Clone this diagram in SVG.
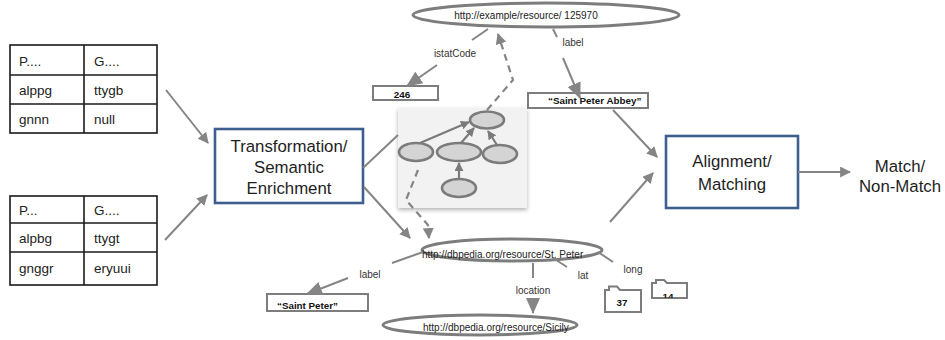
<svg xmlns="http://www.w3.org/2000/svg" width="945" height="340" viewBox="0 0 945 340">
  <defs>
    <style>
      .tbl { fill: #ffffff; stroke: #1a1a1a; stroke-width: 1.6; }
      .cell { font-family: "Liberation Sans", Arial, sans-serif; font-size: 13.5px; fill: #222; }
      .proc { fill: #ffffff; stroke: #3d5f8d; stroke-width: 2.6; }
      .big { font-family: "Liberation Sans", Arial, sans-serif; font-size: 16.8px; fill: #1e1e1e; text-anchor: middle; }
      .conn { fill: none; stroke: #858585; stroke-width: 2; }
      .dash { fill: none; stroke: #858585; stroke-width: 2.2; stroke-dasharray: 7 5; }
      .res { fill: #ffffff; stroke: #7d7d7d; stroke-width: 3; }
      .uri { font-family: "Liberation Sans", Arial, sans-serif; font-size: 10px; fill: #222; }
      .prop { font-family: "Liberation Sans", Arial, sans-serif; font-size: 10px; fill: #333; text-anchor: middle; }
      .lit { fill: #ffffff; stroke: #7d7d7d; stroke-width: 2; }
      .littext { font-family: "Liberation Sans", Arial, sans-serif; font-size: 9.8px; font-weight: bold; fill: #111; }
      .gnode { fill: #d4d4d4; stroke: #7b7b7b; stroke-width: 2.6; }
      .garr { fill: none; stroke: #7b7b7b; stroke-width: 2.2; }
    </style>
    <marker id="head" viewBox="0 0 10 10" refX="9" refY="5" markerWidth="11" markerHeight="11" markerUnits="userSpaceOnUse" orient="auto">
      <path d="M0,0 L10,5 L0,10 z" fill="#858585"/>
    </marker>
    <marker id="ghead" viewBox="0 0 10 10" refX="9" refY="5" markerWidth="9" markerHeight="9" markerUnits="userSpaceOnUse" orient="auto">
      <path d="M0,0 L10,5 L0,10 z" fill="#7b7b7b"/>
    </marker>
    <marker id="bighead" viewBox="0 0 16 14" refX="15" refY="7" markerWidth="16" markerHeight="14" markerUnits="userSpaceOnUse" orient="auto">
      <path d="M0,0 L16,7 L0,14 z" fill="#858585"/>
    </marker>
    <filter id="shadow" x="-10%" y="-10%" width="125%" height="125%">
      <feDropShadow dx="0" dy="2" stdDeviation="2" flood-color="#000" flood-opacity="0.3"/>
    </filter>
    <clipPath id="clip14">
      <rect x="652" y="283" width="35" height="15"/>
    </clipPath>
  </defs>

  <rect width="945" height="340" fill="#ffffff"/>

  <!-- source tables -->
  <g id="table-a">
    <rect class="tbl" x="10" y="45" width="147" height="88"/>
    <line class="tbl" x1="10" y1="75" x2="157" y2="75"/>
    <line class="tbl" x1="10" y1="104" x2="157" y2="104"/>
    <line class="tbl" x1="84" y1="45" x2="84" y2="133"/>
    <text class="cell" x="19" y="66">P....</text>
    <text class="cell" x="94" y="66">G....</text>
    <text class="cell" x="19" y="95">alppg</text>
    <text class="cell" x="94" y="95">ttygb</text>
    <text class="cell" x="19" y="124">gnnn</text>
    <text class="cell" x="94" y="124">null</text>
  </g>

  <g id="table-b">
    <rect class="tbl" x="10" y="196" width="147" height="89"/>
    <line class="tbl" x1="10" y1="223" x2="157" y2="223"/>
    <line class="tbl" x1="10" y1="252" x2="157" y2="252"/>
    <line class="tbl" x1="84" y1="196" x2="84" y2="285"/>
    <text class="cell" x="19" y="215">P...</text>
    <text class="cell" x="94" y="215">G....</text>
    <text class="cell" x="19" y="243">alpbg</text>
    <text class="cell" x="94" y="243">ttygt</text>
    <text class="cell" x="19" y="273">gnggr</text>
    <text class="cell" x="94" y="273">eryuui</text>
  </g>

  <!-- processing steps -->
  <g id="transformation">
    <rect class="proc" x="215" y="129" width="148" height="74"/>
    <text class="big" x="289" y="152">Transformation/</text>
    <text class="big" x="289" y="173">Semantic</text>
    <text class="big" x="289" y="194">Enrichment</text>
  </g>

  <g id="alignment">
    <rect class="proc" x="666" y="136" width="132" height="72"/>
    <text class="big" x="732" y="167">Alignment/</text>
    <text class="big" x="732" y="190">Matching</text>
  </g>

  <g id="result">
    <text class="big" x="900" y="172" font-size="17.5">Match/</text>
    <text class="big" x="900" y="192" font-size="17.5">Non-Match</text>
  </g>

  <!-- small graph icon -->
  <g id="graph-icon">
    <rect x="398" y="108" width="129" height="100" fill="#f2f2f2" filter="url(#shadow)"/>
    <ellipse class="gnode" cx="487" cy="120" rx="17" ry="8.5"/>
    <ellipse class="gnode" cx="416" cy="152" rx="17" ry="9"/>
    <ellipse class="gnode" cx="459" cy="152" rx="22" ry="9"/>
    <ellipse class="gnode" cx="500" cy="154" rx="17" ry="9"/>
    <ellipse class="gnode" cx="459" cy="188" rx="17" ry="9"/>
    <line class="garr" x1="420" y1="143" x2="469" y2="122" marker-end="url(#ghead)"/>
    <line class="garr" x1="461" y1="143" x2="474" y2="128" marker-end="url(#ghead)"/>
    <line class="garr" x1="497" y1="145" x2="488" y2="131" marker-end="url(#ghead)"/>
    <line class="garr" x1="459" y1="179" x2="459" y2="163" marker-end="url(#ghead)"/>
  </g>

  <!-- resource from the first source -->
  <g id="example-resource">
    <ellipse class="res" cx="546" cy="15" rx="133" ry="12"/>
    <text class="uri" x="526" y="18.5" text-anchor="middle">http://example/resource/ 125970</text>
  </g>

  <g id="lit-246">
    <rect class="lit" x="373" y="86" width="65" height="14"/>
    <text class="littext" x="402" y="98" text-anchor="middle">246</text>
  </g>

  <g id="lit-abbey">
    <rect class="lit" x="528" y="93" width="120" height="15"/>
    <text class="littext" x="548" y="104">“Saint Peter Abbey”</text>
  </g>

  <!-- resource from the second source -->
  <g id="dbpedia-stpeter">
    <ellipse class="res" cx="512" cy="250" rx="90" ry="11"/>
    <text class="uri" x="422" y="257.5">http://dbpedia.org/resource/St.  Peter</text>
  </g>

  <g id="dbpedia-sicily">
    <ellipse class="res" cx="480" cy="325" rx="97" ry="10"/>
    <text class="uri" x="423" y="331">http://dbpedia.org/resource/Sicily</text>
  </g>

  <g id="lit-saintpeter">
    <rect class="lit" x="267" y="294" width="101" height="17"/>
    <text class="littext" x="277" y="309">“Saint Peter”</text>
  </g>

  <g id="lit-37">
    <path class="lit" d="M605,290 H609 V286.5 H617 L620,290 H641 V312 H605 Z"/>
    <text class="littext" x="622" y="306" text-anchor="middle">37</text>
  </g>

  <g id="lit-14">
    <path class="lit" d="M652,283 H656 V280 H664 L667,283 H687 V298 H652 Z"/>
    <text class="littext" x="668" y="300" text-anchor="middle" clip-path="url(#clip14)">14</text>
  </g>

  <!-- connectors -->
  <g id="connectors">
    <line class="conn" x1="166" y1="90" x2="208" y2="143" marker-end="url(#head)"/>
    <line class="conn" x1="165" y1="240" x2="207" y2="195" marker-end="url(#head)"/>
    <line class="conn" x1="363" y1="168" x2="398" y2="135"/>
    <line class="conn" x1="364" y1="187" x2="410" y2="238" marker-end="url(#head)"/>
    <polyline class="dash" points="418,170 406,200 428,225 429,238" marker-end="url(#head)"/>
    <polyline class="dash" points="487,110 513,80 498,34" marker-end="url(#head)"/>
    <line class="conn" x1="613" y1="110" x2="657" y2="157" marker-end="url(#head)"/>
    <line class="conn" x1="610" y1="222" x2="653" y2="173" marker-end="url(#head)"/>
    <line class="conn" x1="798" y1="172" x2="850" y2="172" marker-end="url(#head)"/>

    <!-- istatCode -->
    <line class="conn" x1="488" y1="29" x2="472" y2="40"/>
    <text class="prop" x="455" y="57">istatCode</text>
    <line class="conn" x1="437" y1="65" x2="407" y2="86" marker-end="url(#bighead)"/>

    <!-- label (first source) -->
    <line class="conn" x1="553" y1="29" x2="557" y2="37"/>
    <text class="prop" x="573" y="46">label</text>
    <line class="conn" x1="563" y1="58" x2="580" y2="98" marker-end="url(#bighead)"/>

    <!-- label (second source) -->
    <line class="conn" x1="392" y1="263" x2="423" y2="252"/>
    <text class="prop" x="370" y="278">label</text>
    <line class="conn" x1="348" y1="278" x2="307" y2="294" marker-end="url(#bighead)"/>

    <!-- location -->
    <line class="conn" x1="533" y1="263" x2="533" y2="278"/>
    <text class="prop" x="533" y="294">location</text>
    <line class="conn" x1="533" y1="298" x2="533" y2="313" marker-end="url(#bighead)"/>

    <!-- lat / long -->
    <line class="conn" x1="553" y1="258" x2="567" y2="267"/>
    <text class="prop" x="583" y="279">lat</text>
    <line class="conn" x1="598" y1="252" x2="613" y2="262"/>
    <text class="prop" x="633" y="273">long</text>
  </g>
</svg>
